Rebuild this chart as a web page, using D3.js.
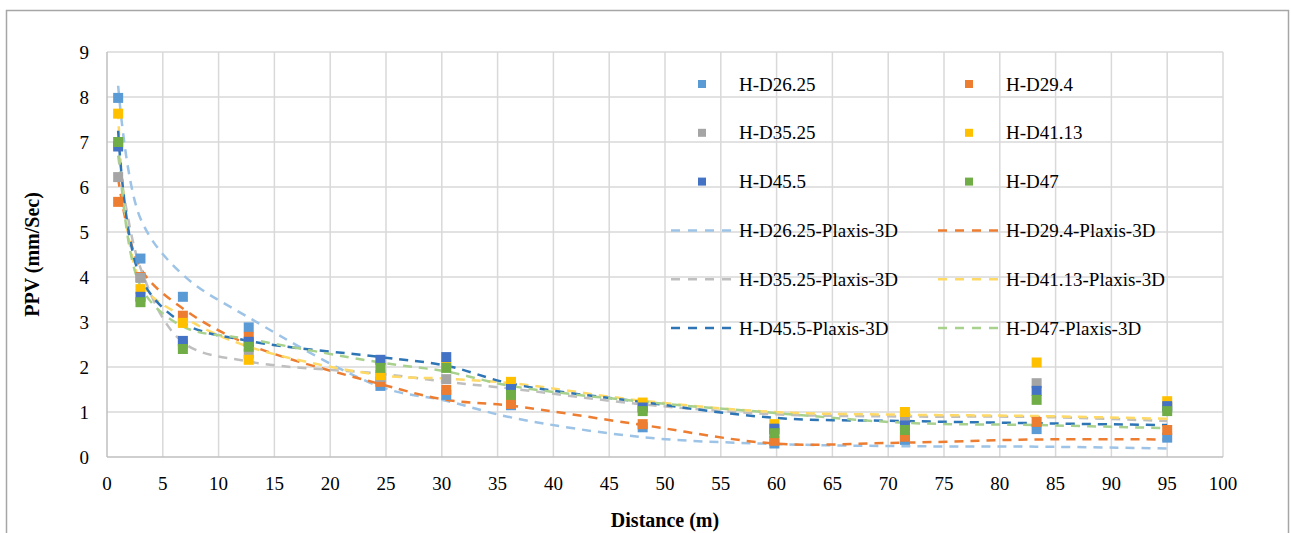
<!DOCTYPE html>
<html>
<head>
<meta charset="utf-8">
<script src="https://cdn.jsdelivr.net/npm/d3@7"></script>
<style>
  body { margin: 0; background: #fff; }
  svg { display: block; }
  svg text { font-family: "Liberation Serif", "DejaVu Serif", "Times New Roman", Times, serif; }
</style>
</head>
<body>
<svg id="chart" width="1291" height="533"></svg>
<script>
// ---- data ----
const distances = [1, 3, 6.8, 12.7, 24.5, 30.4, 36.2, 48, 59.8, 71.5, 83.3, 95];

// measured PPV (markers)
const hd2625 = [7.98, 4.41, 3.56, 2.88, 1.58, 1.38, 1.15, 0.66, 0.30, 0.38, 0.62, 0.43];
const hd294  = [5.67, 4.00, 3.14, 2.67, 1.67, 1.49, 1.18, 0.73, 0.36, 0.45, 0.78, 0.60];
const hd3525 = [6.22, 3.98, 2.50, 2.30, 1.78, 1.73, 1.45, 1.10, 0.60, 0.87, 1.64, 1.10];
const hd4113 = [7.63, 3.73, 2.98, 2.16, 1.82, 2.05, 1.67, 1.21, 0.73, 1.00, 2.10, 1.24];
const hd455  = [6.90, 3.56, 2.58, 2.56, 2.16, 2.22, 1.51, 1.10, 0.63, 0.70, 1.47, 1.13];
const hd47   = [7.00, 3.44, 2.40, 2.45, 1.98, 1.98, 1.38, 1.02, 0.53, 0.60, 1.27, 1.02];

// Plaxis-3D curves
const px2625 = [8.25, 5.30, 4.05, 3.10, 1.56, 1.25, 0.88, 0.44, 0.29, 0.24, 0.23, 0.19];
const px294  = [6.20, 4.20, 3.30, 2.50, 1.62, 1.27, 1.14, 0.71, 0.30, 0.32, 0.39, 0.39];
const px3525 = [6.70, 4.20, 2.55, 2.12, 1.85, 1.67, 1.52, 1.17, 0.95, 0.90, 0.89, 0.80];
const px4113 = [7.70, 3.90, 3.12, 2.45, 1.82, 1.74, 1.64, 1.25, 1.00, 0.94, 0.91, 0.85];
const px455  = [7.25, 4.00, 2.98, 2.58, 2.22, 2.03, 1.63, 1.22, 0.87, 0.80, 0.75, 0.71];
const px47   = [7.05, 3.80, 2.90, 2.62, 2.10, 1.90, 1.58, 1.23, 0.98, 0.76, 0.71, 0.64];

const xTicks = d3.range(0, 101, 5);
const yTicks = d3.range(0, 10, 1);

const markerSeries = [
  { name: "H-D26.25", values: hd2625, color: "#5B9BD5" },
  { name: "H-D29.4",  values: hd294,  color: "#ED7D31" },
  { name: "H-D35.25", values: hd3525, color: "#A5A5A5" },
  { name: "H-D41.13", values: hd4113, color: "#FFC000" },
  { name: "H-D45.5",  values: hd455,  color: "#4472C4" },
  { name: "H-D47",    values: hd47,   color: "#70AD47" }
];
const lineSeries = [
  { name: "H-D26.25-Plaxis-3D", values: px2625, color: "#9DC3E6" },
  { name: "H-D29.4-Plaxis-3D",  values: px294,  color: "#ED7D31" },
  { name: "H-D35.25-Plaxis-3D", values: px3525, color: "#BFBFBF" },
  { name: "H-D41.13-Plaxis-3D", values: px4113, color: "#FFD966" },
  { name: "H-D45.5-Plaxis-3D",  values: px455,  color: "#2E75B6" },
  { name: "H-D47-Plaxis-3D",    values: px47,   color: "#A9D18E" }
];

// ---- layout ----
const svg = d3.select("#chart");
const plot = { left: 107, top: 52, right: 1223, bottom: 457 };

const x = d3.scaleLinear().domain([0, 100]).range([plot.left, plot.right]);
const y = d3.scaleLinear().domain([0, 9]).range([plot.bottom, plot.top]);

// outer chart border
svg.append("rect")
  .attr("x", 6.5).attr("y", 10.5)
  .attr("width", 1282).attr("height", 540)
  .attr("fill", "none").attr("stroke", "#A6A6A6").attr("stroke-width", 1.5);

// gridlines
const grid = svg.append("g");
grid.selectAll("line.h").data(yTicks.filter(d => d > 0)).join("line")
  .attr("x1", plot.left).attr("x2", plot.right)
  .attr("y1", d => y(d)).attr("y2", d => y(d))
  .attr("stroke", "#D9D9D9").attr("stroke-width", 1.5);
grid.selectAll("line.v").data(xTicks.filter(d => d > 0)).join("line")
  .attr("y1", plot.top).attr("y2", plot.bottom)
  .attr("x1", d => x(d)).attr("x2", d => x(d))
  .attr("stroke", "#D9D9D9").attr("stroke-width", 1.5);

// axis lines
svg.append("line").attr("x1", plot.left).attr("x2", plot.right)
  .attr("y1", plot.bottom).attr("y2", plot.bottom)
  .attr("stroke", "#BFBFBF").attr("stroke-width", 1.5);
svg.append("line").attr("x1", plot.left).attr("x2", plot.left)
  .attr("y1", plot.top).attr("y2", plot.bottom)
  .attr("stroke", "#BFBFBF").attr("stroke-width", 1.5);

// tick labels
svg.append("g").selectAll("text").data(yTicks).join("text")
  .attr("x", 89).attr("y", d => y(d)).attr("dy", "0.35em")
  .attr("text-anchor", "end").attr("font-size", 19).attr("fill", "#000")
  .text(d => d);
svg.append("g").selectAll("text").data(xTicks).join("text")
  .attr("x", d => x(d)).attr("y", 483).attr("dy", "0.35em")
  .attr("text-anchor", "middle").attr("font-size", 19).attr("fill", "#000")
  .text(d => d);

// axis titles
svg.append("text")
  .attr("x", (plot.left + plot.right) / 2).attr("y", 520).attr("dy", "0.35em")
  .attr("text-anchor", "middle").attr("font-size", 20).attr("font-weight", "bold")
  .text("Distance (m)");
svg.append("text")
  .attr("transform", `translate(32,${(plot.top + plot.bottom) / 2}) rotate(-90)`)
  .attr("dy", "0.35em")
  .attr("text-anchor", "middle").attr("font-size", 20).attr("font-weight", "bold")
  .text("PPV (mm/Sec)");

// Plaxis curves
const line = d3.line()
  .x((d, i) => x(distances[i]))
  .y(d => y(d))
  .curve(d3.curveCatmullRom.alpha(0.5));

svg.append("g").selectAll("path").data(lineSeries).join("path")
  .attr("d", d => line(d.values))
  .attr("fill", "none")
  .attr("stroke", d => d.color)
  .attr("stroke-width", 2.5)
  .attr("stroke-dasharray", "9,7");

// measured markers
const ms = 10;
markerSeries.forEach(s => {
  svg.append("g").selectAll("rect").data(s.values).join("rect")
    .attr("x", (d, i) => x(distances[i]) - ms / 2)
    .attr("y", d => y(d) - ms / 2)
    .attr("width", ms).attr("height", ms)
    .attr("fill", s.color);
});

// legend (two columns, markers first, then curves)
const legendItems = markerSeries.map(d => ({ ...d, type: "marker" }))
  .concat(lineSeries.map(d => ({ ...d, type: "line" })));
const colX = [671, 938];
const rowY0 = 84, rowStep = 48.8;

const lg = svg.append("g").selectAll("g").data(legendItems).join("g")
  .attr("transform", (d, i) => `translate(${colX[i % 2]},${rowY0 + Math.floor(i / 2) * rowStep})`);

lg.filter(d => d.type === "marker").append("rect")
  .attr("x", 27).attr("y", -4).attr("width", 8).attr("height", 8)
  .attr("fill", d => d.color);
lg.filter(d => d.type === "line").append("line")
  .attr("x1", 0).attr("x2", 60).attr("y1", 0).attr("y2", 0)
  .attr("stroke", d => d.color).attr("stroke-width", 2.5)
  .attr("stroke-dasharray", "9,8");
lg.append("text")
  .attr("x", 68).attr("y", 0).attr("dy", "0.35em")
  .attr("font-size", 19).attr("fill", "#000")
  .text(d => d.name);
</script>
</body>
</html>
